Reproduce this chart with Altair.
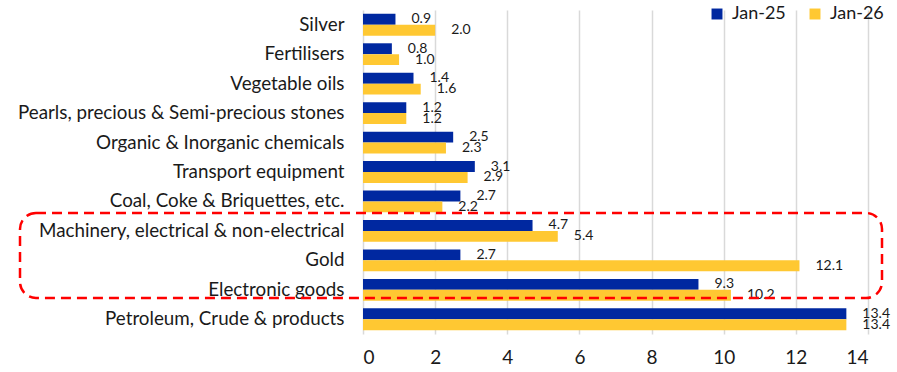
import altair as alt
import pandas as pd

categories = [
    "Silver",
    "Fertilisers",
    "Vegetable oils",
    "Pearls, precious & Semi-precious stones",
    "Organic & Inorganic chemicals",
    "Transport equipment",
    "Coal, Coke & Briquettes, etc.",
    "Machinery, electrical & non-electrical",
    "Gold",
    "Electronic goods",
    "Petroleum, Crude & products",
]
jan25 = [0.9, 0.8, 1.4, 1.2, 2.5, 3.1, 2.7, 4.7, 2.7, 9.3, 13.4]
jan26 = [2.0, 1.0, 1.6, 1.2, 2.3, 2.9, 2.2, 5.4, 12.1, 10.2, 13.4]
series = ["Jan-25", "Jan-26"]
colors = ["#0028A0", "#FFC832"]

rows = []
for c, a, b in zip(categories, jan25, jan26):
    rows.append({"category": c, "period": series[0], "value": a})
    rows.append({"category": c, "period": series[1], "value": b})
df = pd.DataFrame(rows)

FONT = "Lato"

y_enc = alt.Y(
    "category:N",
    sort=categories,
    title=None,
    scale=alt.Scale(paddingInner=0.26, paddingOuter=0.13),
    axis=alt.Axis(
        ticks=False,
        domain=False,
        labelFont=FONT,
        labelFontSize=18.8,
        labelColor="#1a1a1a",
        labelPadding=19,
        labelLimit=400,
    ),
)
x_enc = alt.X(
    "value:Q",
    title=None,
    scale=alt.Scale(domain=[0, 14], nice=False),
    axis=alt.Axis(
        values=list(range(0, 15, 2)),
        ticks=False,
        domain=False,
        grid=True,
        gridColor="#d9d9d9",
        gridWidth=1.5,
        labelFont=FONT,
        labelFontSize=19,
        labelColor="#1a1a1a",
        labelPadding=14,
    ),
)
yoff = alt.YOffset("period:N", sort=series)

bars = alt.Chart(df).mark_bar().encode(
    x=x_enc,
    y=y_enc,
    yOffset=yoff,
    color=alt.Color(
        "period:N",
        sort=series,
        scale=alt.Scale(domain=series, range=colors),
        legend=alt.Legend(
            title=None,
            orient="none",
            direction="horizontal",
            legendX=345,
            legendY=-5,
            symbolType="square",
            symbolSize=120,
            symbolStrokeWidth=0,
            labelFont=FONT,
            labelFontSize=18,
            labelColor="#1a1a1a",
            labelOffset=6,
            columnPadding=20,
        ),
    ),
)

labels = alt.Chart(df).mark_text(
    align="left", baseline="middle", dx=16, font=FONT, fontSize=14, color="#1a1a1a"
).encode(
    x="value:Q",
    y=alt.Y("category:N", sort=categories),
    yOffset=yoff,
    text=alt.Text("value:Q", format=".1f"),
)

# dashed rounded frame around the highlighted categories
frame = alt.Chart(pd.DataFrame({"k": [0]})).mark_rect(
    filled=False,
    stroke="#FF0000",
    strokeWidth=2.5,
    strokeDash=[10, 6],
    cornerRadius=16,
).encode(
    x=alt.value(-343),
    x2=alt.value(519),
    y=alt.value(203),
    y2=alt.value(288),
)

chart = (
    alt.layer(bars, labels, frame)
    .properties(
        width=505,
        height=324,
        autosize=alt.AutoSizeParams(type="none"),
        padding={"left": 363, "top": 10, "right": 29, "bottom": 38},
    )
    .configure_view(stroke=None)
)

chart.save("out.html", embed_options={"renderer": "svg", "actions": False})
